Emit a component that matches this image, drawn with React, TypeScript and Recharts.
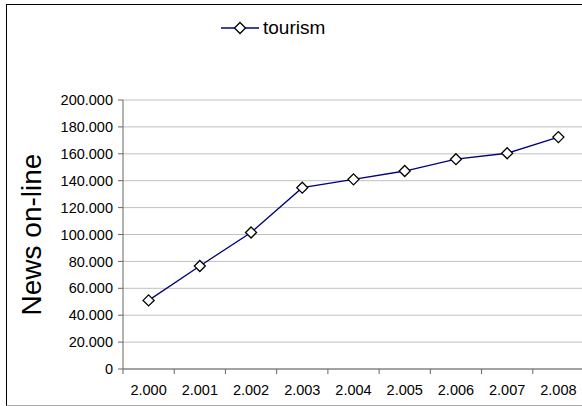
import { LineChart, Line, XAxis, YAxis, CartesianGrid } from 'recharts';

const years = ['2.000', '2.001', '2.002', '2.003', '2.004', '2.005', '2.006', '2.007', '2.008'];
const tourism = [51000, 76600, 101500, 134800, 141000, 147200, 156000, 160400, 172400];
const yTicks = [0, 20000, 40000, 60000, 80000, 100000, 120000, 140000, 160000, 180000, 200000];
const seriesName = 'tourism';

const data = years.map((year, i) => ({ year, tourism: tourism[i] }));

const FONT = '"Liberation Sans", Arial, sans-serif';
const HALF_BAND = 25.6;

const fmt = (v: number) => (v === 0 ? '0' : (v / 1000).toFixed(3));

function Diamond({ cx, cy }: any) {
  if (cx == null || cy == null) return null;
  const r = 5.5;
  return (
    <polygon
      points={`${cx},${cy - r} ${cx + r},${cy} ${cx},${cy + r} ${cx - r},${cy}`}
      fill="#fff"
      stroke="#000"
      strokeWidth={1.3}
    />
  );
}

function XTick({ x, y, payload, index }: any) {
  const axisY = y - 15;
  return (
    <g>
      <line x1={x - HALF_BAND} x2={x - HALF_BAND} y1={axisY} y2={axisY + 5} stroke="#666" />
      {index === years.length - 1 && (
        <line x1={x + HALF_BAND} x2={x + HALF_BAND} y1={axisY} y2={axisY + 5} stroke="#666" />
      )}
      <text x={x} y={y + 11} textAnchor="middle" fontSize={14.5} fill="#000" fontFamily={FONT}>
        {payload.value}
      </text>
    </g>
  );
}

function YLabel({ viewBox }: any) {
  const cy = viewBox.y + viewBox.height / 2;
  return (
    <text
      x={41}
      y={cy}
      transform={`rotate(-90, 41, ${cy})`}
      textAnchor="middle"
      fontSize={28}
      fontFamily={FONT}
      fill="#000"
    >
      News on-line
    </text>
  );
}

export default function App() {
  return (
    <div style={{ position: 'fixed', left: 0, top: 0, width: 582, height: 406, overflow: 'hidden', background: '#fff' }}>
      <div
        style={{
          position: 'absolute',
          left: 6,
          top: 4,
          width: 600,
          height: 400,
          borderLeft: '1.5px solid #000',
          borderTop: '1.5px solid #000',
          borderBottom: '1px solid #aaa',
        }}
      />
      <div style={{ position: 'absolute', left: 221, top: 18, display: 'flex', alignItems: 'center', fontFamily: FONT, fontSize: 19 }}>
        <svg width={38} height={20}>
          <line x1={0} x2={38} y1={10} y2={10} stroke="#000080" strokeWidth={1.3} />
          <Diamond cx={19} cy={10} />
        </svg>
        <span style={{ marginLeft: 4, lineHeight: '20px' }}>{seriesName}</span>
      </div>
      <LineChart width={584} height={406} data={data} margin={{ top: 100, right: 0, bottom: 0, left: 0 }} style={{ position: 'absolute', left: 0, top: 0 }}>
        <CartesianGrid vertical={false} stroke="#c0c0c0" />
        <XAxis
          dataKey="year"
          height={37}
          padding={{ left: HALF_BAND, right: HALF_BAND }}
          axisLine={{ stroke: '#666' }}
          tickLine={false}
          tickSize={5}
          tickMargin={10}
          tick={<XTick />}
          interval={0}
        />
        <YAxis
          width={123}
          domain={[0, 200000]}
          ticks={yTicks}
          tickFormatter={fmt}
          axisLine={{ stroke: '#666' }}
          tickLine={{ stroke: '#666' }}
          tickSize={5}
          tickMargin={5}
          tick={{ fontSize: 14.5, fill: '#000', fontFamily: FONT }}
          interval={0}
          label={<YLabel />}
        />
        <Line
          dataKey="tourism"
          name={seriesName}
          stroke="#000080"
          strokeWidth={1.3}
          dot={<Diamond />}
          activeDot={false}
          isAnimationActive={false}
        />
      </LineChart>
    </div>
  );
}
